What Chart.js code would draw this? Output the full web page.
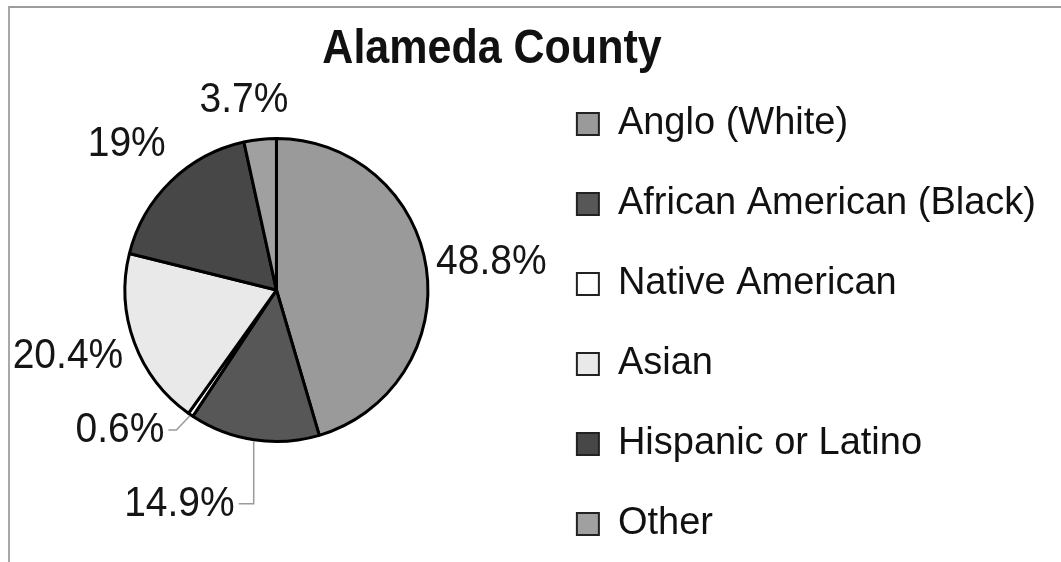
<!DOCTYPE html>
<html>
<head>
<meta charset="utf-8">
<title>Alameda County</title>
<script src="https://cdn.jsdelivr.net/npm/chart.js@4/dist/chart.umd.min.js"></script>
<style>
  html, body { margin: 0; padding: 0; background: #fff; overflow: hidden; }
  body { width: 1061px; height: 562px; position: relative; }
  /* canvas starts a little above the page so the legend column fits below */
  #wrap { position: absolute; left: 0; top: -20px; width: 1061px; height: 620px; }
  #frame {
    position: absolute; left: 8px; top: 6px; width: 1100px; height: 600px;
    border-top: 2px solid #9c9c9c; border-left: 2px solid #a8a8a8;
    pointer-events: none;
  }
</style>
</head>
<body>
<div id="wrap"><canvas id="pieChart"></canvas></div>
<div id="frame"></div>
<script>
// data
var chartTitle = "Alameda County";
var groups = ["Anglo (White)", "African American (Black)", "Native American", "Asian", "Hispanic or Latino", "Other"];
var percents = [48.8, 14.9, 0.6, 20.4, 19, 3.7];

var SHIFT = 20; // same as #wrap top offset

var sliceColors = ["#9a9a9a", "#575757", "#ffffff", "#e9e9e9", "#474747", "#a0a0a0"];
// label nudges from the anchor just outside each slice
var labelNudge = [[55, -5], [-73, 54], [-65, 7], [-57, 10], [-37, -30], [-15, -29]];
var hasLeader = [false, true, true, false, false, false];

Chart.defaults.font.family = '"Liberation Sans", Arial, sans-serif';

// title drawn by hand so it can sit off-centre like the original
var titlePlugin = {
  id: "offTitle",
  afterDraw: function (chart) {
    var ctx = chart.ctx;
    ctx.save();
    ctx.font = 'bold 43px "Liberation Sans", Arial, sans-serif';
    ctx.fillStyle = "#111";
    ctx.textAlign = "center";
    ctx.textBaseline = "alphabetic";
    ctx.translate(492, 63 + SHIFT);
    ctx.scale(1, 1.1);
    ctx.fillText(chartTitle, 0, 0);
    ctx.restore();
  }
};

var labelPlugin = {
  id: "sliceLabels",
  afterDatasetsDraw: function (chart) {
    var ctx = chart.ctx;
    var meta = chart.getDatasetMeta(0);
    ctx.save();
    ctx.font = '39px "Liberation Sans", Arial, sans-serif';
    ctx.fillStyle = "#151515";
    ctx.textAlign = "center";
    ctx.textBaseline = "middle";
    meta.data.forEach(function (arc, i) {
      var p = arc.getProps(["x", "y", "startAngle", "endAngle", "outerRadius"], true);
      var mid = (p.startAngle + p.endAngle) / 2;
      var ax = p.x + Math.cos(mid) * (p.outerRadius + 10);
      var ay = p.y + Math.sin(mid) * (p.outerRadius + 10);
      var lx = ax + labelNudge[i][0];
      var ly = ay + labelNudge[i][1];
      var txt = percents[i] + "%";
      var w = ctx.measureText(txt).width;

      if (hasLeader[i]) {
        var ex = p.x + Math.cos(mid) * (p.outerRadius + 1.5);
        var ey = p.y + Math.sin(mid) * (p.outerRadius + 1.5);
        ctx.beginPath();
        ctx.strokeStyle = "#9a9a9a";
        ctx.lineWidth = 1.5;
        ctx.moveTo(ex, ey);
        if (Math.abs(Math.cos(mid)) < 0.3) {
          ctx.lineTo(ex, ly);
        } else {
          ctx.lineTo(lx + w / 2 + 12, ly);
        }
        ctx.lineTo(lx + w / 2 + 4, ly);
        ctx.stroke();
      }

      ctx.save();
      ctx.translate(lx, ly);
      ctx.scale(1, 1.1);
      ctx.fillText(txt, 0, 0);
      ctx.restore();
    });
    ctx.restore();
  }
};

var baseLabels = Chart.overrides.pie.plugins.legend.labels.generateLabels;

var ctx = document.getElementById("pieChart").getContext("2d");

var myPie = new Chart(ctx, {
  type: "pie",
  data: {
    labels: groups,
    datasets: [
      {
        data: percents,
        backgroundColor: sliceColors,
        borderColor: "#000",
        borderWidth: 3,
        radius: 151.5,
      },
    ],
  },
  options: {
    responsive: true,
    maintainAspectRatio: false,
    animation: false,
    layout: {
      padding: { left: 18, right: 15, top: 15, bottom: 15 },
    },
    plugins: {
      title: { display: false },
      tooltip: { enabled: false },
      legend: {
        position: "right",
        align: "end",
        labels: {
          color: "#111",
          font: { size: 38 },
          boxWidth: 22,
          boxHeight: 22,
          padding: 42,
          generateLabels: function (chart) {
            return baseLabels(chart).map(function (item) {
              item.lineWidth = 2;
              item.strokeStyle = "#222";
              return item;
            });
          },
        },
      },
    },
  },
  plugins: [labelPlugin, titlePlugin],
});
</script>
</body>
</html>
